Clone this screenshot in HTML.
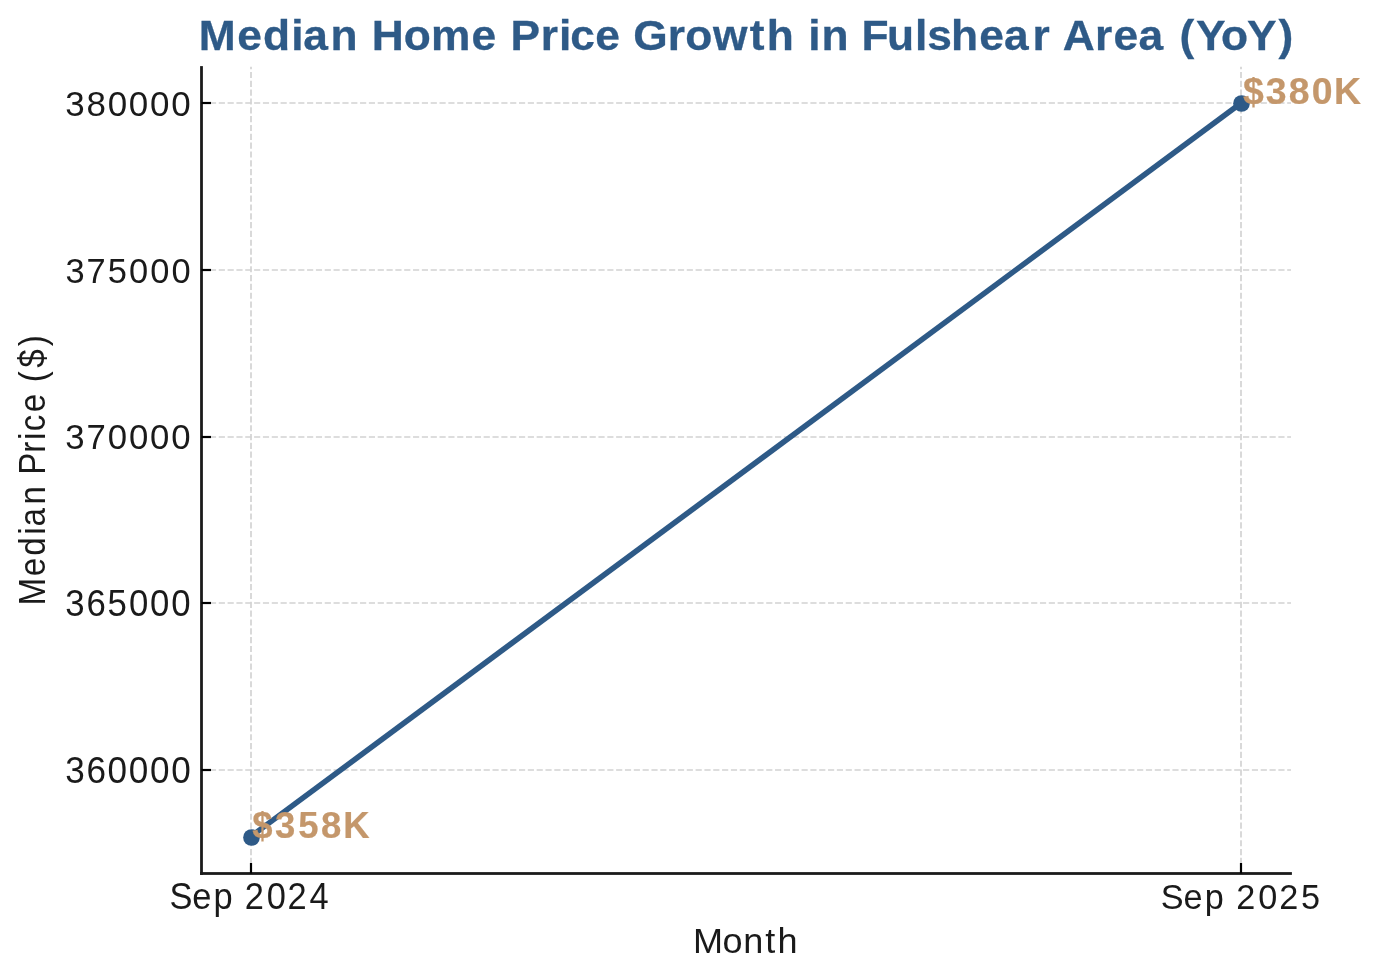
<!DOCTYPE html>
<html>
<head>
<meta charset="utf-8">
<title>Median Home Price Growth in Fulshear Area (YoY)</title>
<style>
  html, body { margin: 0; padding: 0; background: #ffffff; }
  body { width: 1379px; height: 980px; overflow: hidden; }
  svg { display: block; will-change: transform; }
  text { font-family: "Liberation Sans", sans-serif; }
  .tick { font-size: 36px; fill: #1a1a1a; }
  .lbl { font-size: 36px; fill: #1a1a1a; }
  .ttl { font-size: 42px; font-weight: bold; fill: #2e5a87; stroke: #2e5a87; stroke-width: 0.3px; }
  .ann { font-size: 37.5px; font-weight: bold; fill: #c4976b; stroke: #c4976b; stroke-width: 0.25px; }
</style>
</head>
<body>
<svg width="1379" height="980" viewBox="0 0 1379 980">
  <rect x="0" y="0" width="1379" height="980" fill="#ffffff"/>

  <!-- grid -->
  <g stroke="#d2d2d2" stroke-width="1.67" stroke-dasharray="6.17 2.66" fill="none">
    <line x1="201.1" y1="103" x2="1291" y2="103"/>
    <line x1="201.1" y1="270" x2="1291" y2="270"/>
    <line x1="201.1" y1="437" x2="1291" y2="437"/>
    <line x1="201.1" y1="603" x2="1291" y2="603"/>
    <line x1="201.1" y1="770" x2="1291" y2="770"/>
    <line x1="251" y1="872.8" x2="251" y2="66.7"/>
    <line x1="1241" y1="872.8" x2="1241" y2="66.7"/>
  </g>

  <!-- data line -->
  <line x1="251.5" y1="836.01" x2="1241.5" y2="102.85" stroke="#2e5a87" stroke-width="5.56"/>
  <circle cx="251.5" cy="837.5" r="8.33" fill="#2e5a87"/>
  <circle cx="1241.5" cy="103.5" r="8.33" fill="#2e5a87"/>

  <!-- spines -->
  <g fill="#1a1a1a">
    <rect x="200.11" y="66.11" width="2.78" height="808.78"/>
    <rect x="200.11" y="872.11" width="1091.79" height="2.78"/>
  </g>
  <!-- ticks -->
  <g stroke="#000000" stroke-width="2.2" fill="none">
    <line x1="201.5" y1="103" x2="211.0" y2="103"/>
    <line x1="201.5" y1="270" x2="211.0" y2="270"/>
    <line x1="201.5" y1="437" x2="211.0" y2="437"/>
    <line x1="201.5" y1="603" x2="211.0" y2="603"/>
    <line x1="201.5" y1="770" x2="211.0" y2="770"/>
    <line x1="251" y1="873.5" x2="251" y2="863"/>
    <line x1="1241" y1="873.5" x2="1241" y2="863"/>
  </g>

  <!-- y tick labels -->
  <text class="tick" transform="scale(0.9714,1)" x="67.20 88.98 110.82 132.65 154.48 176.32" y="115.8">380000</text>
  <text class="tick" transform="scale(0.9571,1)" x="68.36 90.40 112.50 134.79 156.95 179.11" y="282.55">375000</text>
  <text class="tick" transform="scale(0.9662,1)" x="67.61 89.45 111.46 133.41 155.36 177.31" y="449.3">370000</text>
  <text class="tick" transform="scale(0.9660,1)" x="67.63 89.54 111.36 133.44 155.40 177.35" y="616.05">365000</text>
  <text class="tick" transform="scale(0.9752,1)" x="66.90 88.60 110.35 132.10 153.85 175.59" y="782.8">360000</text>
  <!-- x tick labels -->
  <text class="tick" transform="scale(0.9560,1)" x="177.36 201.20 223.33 243.35 256.13 278.95 300.85 323.67" y="908.9">Sep 2024</text>
  <text class="tick" transform="scale(0.9519,1)" x="1219.31 1243.33 1265.65 1285.67 1298.73 1321.75 1343.83 1366.71" y="908.9">Sep 2025</text>
  <!-- axis labels -->
  <text class="lbl" transform="scale(1.0018,1)" x="691.66 721.18 741.98 763.90 776.07" y="953">Month</text>
  <text class="lbl" transform="translate(44.8,602.8) rotate(-90) scale(0.9202,1)" x="-2.91 28.90 51.22 74.02 82.80 106.78 126.80 139.25 163.11 176.85 186.41 206.98 227.00 239.74 255.31 278.73" y="0">Median Price ($)</text>
  <!-- title -->
  <text class="ttl" transform="scale(1.0555,1)" x="188.41 224.80 249.29 275.96 287.40 313.18 338.84 352.11 382.46 408.39 446.83 470.18 483.70 512.25 529.56 540.25 564.06 587.42 599.97 632.72 649.34 675.48 710.39 726.55 752.21 765.82 778.22 803.88 816.16 840.44 866.87 878.46 901.09 927.65 951.32 978.13 994.48 1006.85 1037.53 1054.94 1078.61 1101.97 1117.40 1133.00 1156.77 1181.52 1211.19" y="49.8">Median Home Price Growth in Fulshear Area (YoY)</text>
  <!-- annotations -->
  <text class="ann" transform="scale(0.9726,1)" x="259.29 282.81 306.53 330.11 353.05" y="837.6">$358K</text>
  <text class="ann" transform="scale(0.9978,1)" x="1245.65 1268.58 1291.59 1314.74 1336.94" y="103.6">$380K</text>
</svg>
</body>
</html>
